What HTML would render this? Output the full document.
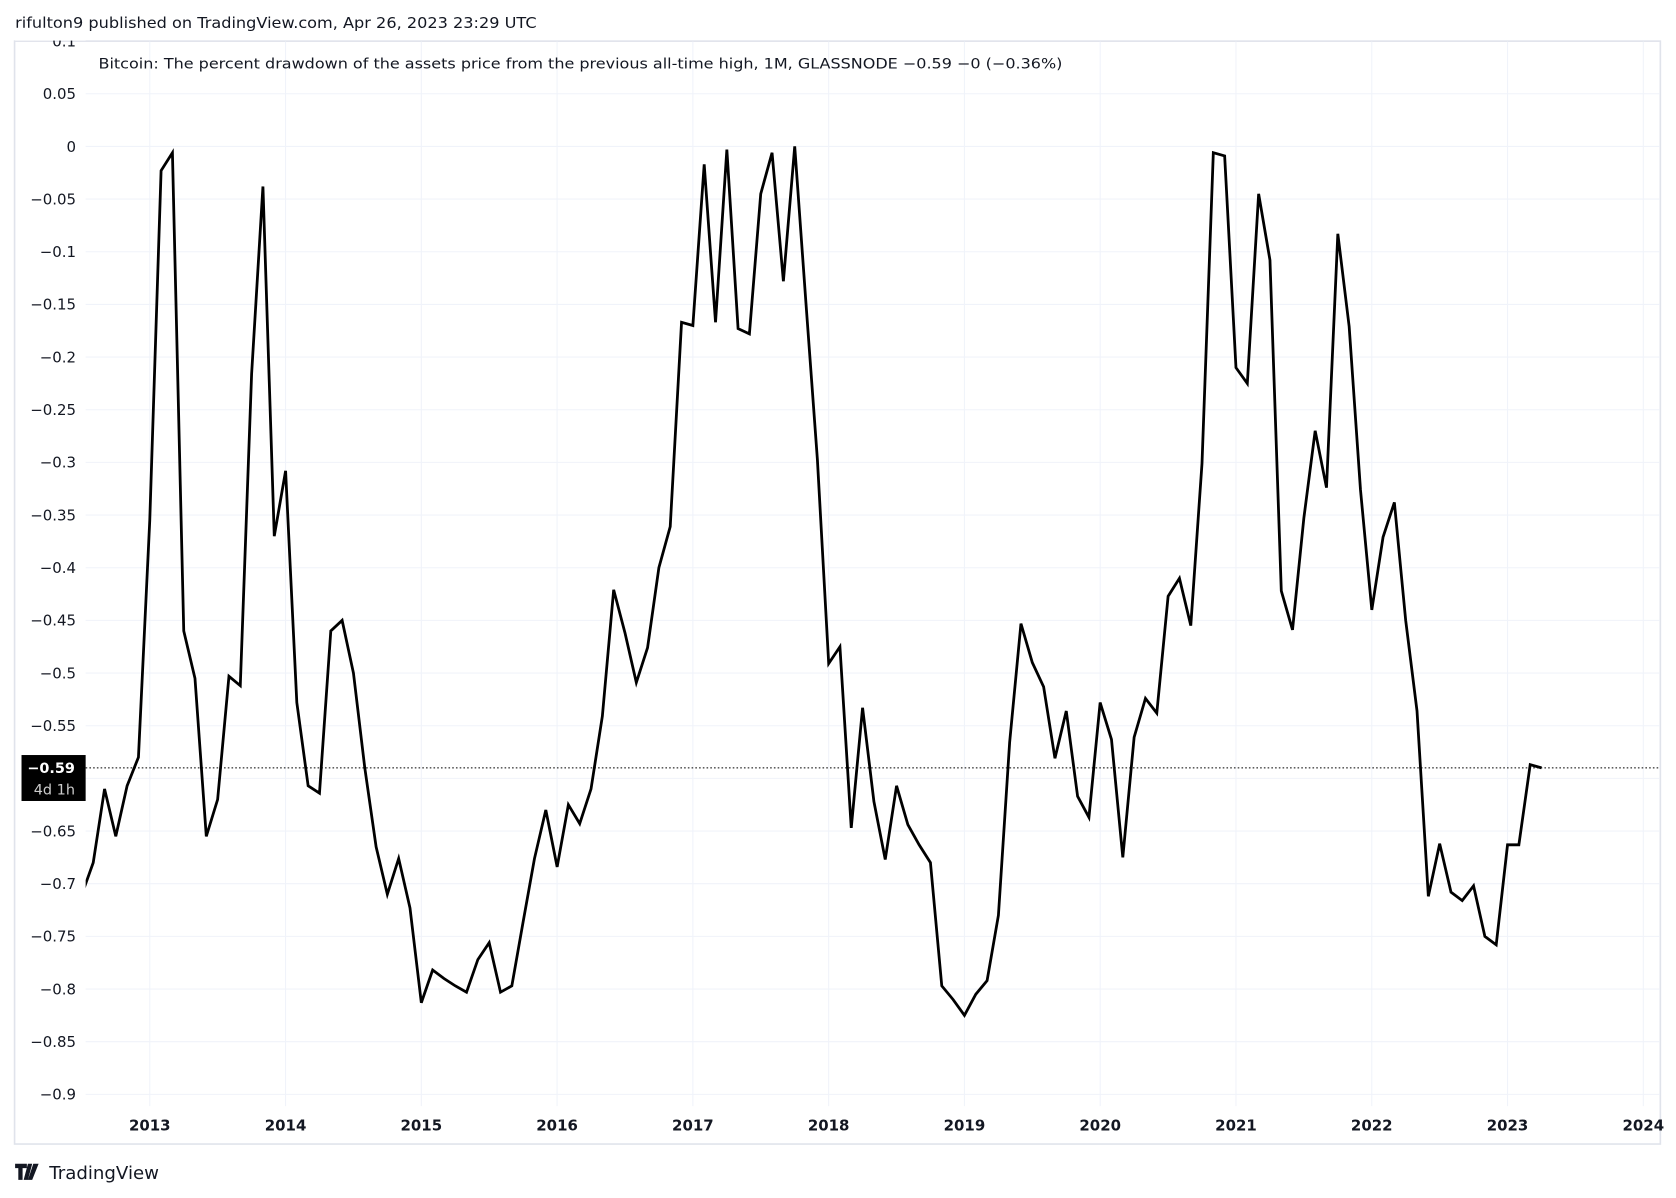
<!DOCTYPE html>
<html><head><meta charset="utf-8"><style>
html,body{margin:0;padding:0;background:#fff;}
svg{display:block;font-family:"DejaVu Sans","Liberation Sans",sans-serif;}
</style></head><body>
<svg id="chart" width="1676" height="1198" viewBox="0 0 1568 1121" xmlns="http://www.w3.org/2000/svg">
<rect width="1568" height="1121" fill="#fff"/>
<text x="14" y="26" font-size="14.5" fill="#131722" textLength="488" lengthAdjust="spacingAndGlyphs">rjfulton9 published on TradingView.com, Apr 26, 2023 23:29 UTC</text>
<rect x="13.5" y="38.5" width="1540" height="1032" fill="none" stroke="#e0e3eb" stroke-width="1.5"/>
<defs><clipPath id="plotclip"><rect x="80" y="39" width="1473" height="996"/></clipPath></defs>
<g id="grid"></g>
<g id="yaxis"></g>
<g id="xaxis"></g>
<g clip-path="url(#plotclip)"><path id="line" fill="none" stroke="#000" stroke-width="2.6" stroke-linejoin="miter"/></g>
<line id="lastline" x1="80" x2="1553" stroke="#000" stroke-width="1" stroke-dasharray="1.5,2"/>
<g>
<rect id="lastbox" x="20" width="60" height="43" fill="#000"/>
<text id="lastval" x="70" font-size="13.5" font-weight="bold" fill="#fff" text-anchor="end">−0.59</text>
<text id="lastcd" x="70" font-size="13.5" fill="#ccc" text-anchor="end">4d 1h</text>
</g>
<text x="92" y="64" font-size="13.5" fill="#131722" textLength="902" lengthAdjust="spacingAndGlyphs">Bitcoin: The percent drawdown of the assets price from the previous all-time high, 1M, GLASSNODE  −0.59  −0 (−0.36%)</text>
<g>
<path d="M14 1089h11v4h-4v11h-4v-11h-3z M26 1089h4l-4 15h-4z M31 1089h5l-6 15h-4z" fill="#131722"/>
<text x="46" y="1103" font-size="17" fill="#131722">TradingView</text>
</g>
</svg>
<script>
const yTicks=[0.1,0.05,0,-0.05,-0.1,-0.15,-0.2,-0.25,-0.3,-0.35,-0.4,-0.45,-0.5,-0.55,-0.6,-0.65,-0.7,-0.75,-0.8,-0.85,-0.9];
const yTickLabels=["0.1","0.05","0","−0.05","−0.1","−0.15","−0.2","−0.25","−0.3","−0.35","−0.4","−0.45","−0.5","−0.55","−0.6","−0.65","−0.7","−0.75","−0.8","−0.85","−0.9"];
const xYears=[2013,2014,2015,2016,2017,2018,2019,2020,2021,2022,2023,2024];
const startYear=2012, startMonth=6;
const values=[-0.71,-0.68,-0.61,-0.655,-0.607,-0.58,
-0.355,-0.023,-0.006,-0.46,-0.505,-0.655,-0.62,-0.503,-0.512,-0.216,-0.038,-0.37,
-0.308,-0.528,-0.607,-0.614,-0.46,-0.45,-0.50,-0.59,-0.665,-0.71,-0.676,-0.723,
-0.813,-0.782,-0.79,-0.797,-0.803,-0.772,-0.756,-0.803,-0.797,-0.736,-0.676,-0.63,
-0.684,-0.625,-0.643,-0.61,-0.541,-0.421,-0.462,-0.509,-0.476,-0.40,-0.361,-0.167,
-0.17,-0.017,-0.167,-0.003,-0.173,-0.178,-0.045,-0.006,-0.128,0,-0.15,-0.297,
-0.491,-0.475,-0.647,-0.533,-0.622,-0.677,-0.607,-0.644,-0.663,-0.68,-0.797,-0.81,
-0.825,-0.805,-0.792,-0.73,-0.566,-0.453,-0.49,-0.513,-0.581,-0.536,-0.617,-0.637,
-0.528,-0.563,-0.675,-0.561,-0.524,-0.538,-0.427,-0.41,-0.455,-0.301,-0.006,-0.009,
-0.21,-0.225,-0.045,-0.108,-0.422,-0.459,-0.353,-0.27,-0.324,-0.083,-0.171,-0.326,
-0.44,-0.371,-0.338,-0.45,-0.536,-0.712,-0.662,-0.708,-0.716,-0.702,-0.75,-0.758,
-0.663,-0.663,-0.587,-0.59];
const lastValue=-0.59;

const SVGNS="http://www.w3.org/2000/svg";
function yScale(v){return 137 - v/0.05*49.28;}
function xScale(m){return 140 + m*127.05/12;}
function mk(tag,attrs,parent){const e=document.createElementNS(SVGNS,tag);for(const k in attrs)e.setAttribute(k,attrs[k]);parent.appendChild(e);return e;}
const gridG=document.getElementById('grid'),yAxG=document.getElementById('yaxis'),xAxG=document.getElementById('xaxis');
yTicks.forEach((v,i)=>{
  if(v<0.09){
    const l=mk('line',{x1:80,x2:1553,y1:yScale(v),y2:yScale(v),stroke:'#f0f3fa','stroke-width':1},gridG);
    
    
  }
  const t=mk('text',{x:71,y:yScale(v)+5,'font-size':14,fill:'#131722','text-anchor':'end'},yAxG);
  t.textContent=yTickLabels[i];
  
  
});
mk('rect',{x:14,y:26,width:66,height:12,fill:'#fff'},yAxG);
xYears.forEach(yr=>{
  const xx=xScale((yr-2013)*12);
  const l=mk('line',{x1:xx,x2:xx,y1:39,y2:1035,stroke:'#f0f3fa','stroke-width':1},gridG);
  
  
  const t=mk('text',{x:xx,y:1058,'font-size':14,fill:'#131722','text-anchor':'middle','font-weight':'bold'},xAxG);
  t.textContent=String(yr);
  
  
});
let d='';
values.forEach((v,i)=>{const m=(startYear-2013)*12+startMonth+i;d+=(i?'L':'M')+xScale(m).toFixed(1)+' '+yScale(v).toFixed(1);});
document.getElementById('line').setAttribute('d',d);
const ly=yScale(lastValue);
const ll=document.getElementById('lastline');ll.setAttribute('y1',ly);ll.setAttribute('y2',ly);
document.getElementById('lastbox').setAttribute('y',ly-12);
document.getElementById('lastval').setAttribute('y',ly+5);
document.getElementById('lastcd').setAttribute('y',ly+25);
</script>
</body></html>
